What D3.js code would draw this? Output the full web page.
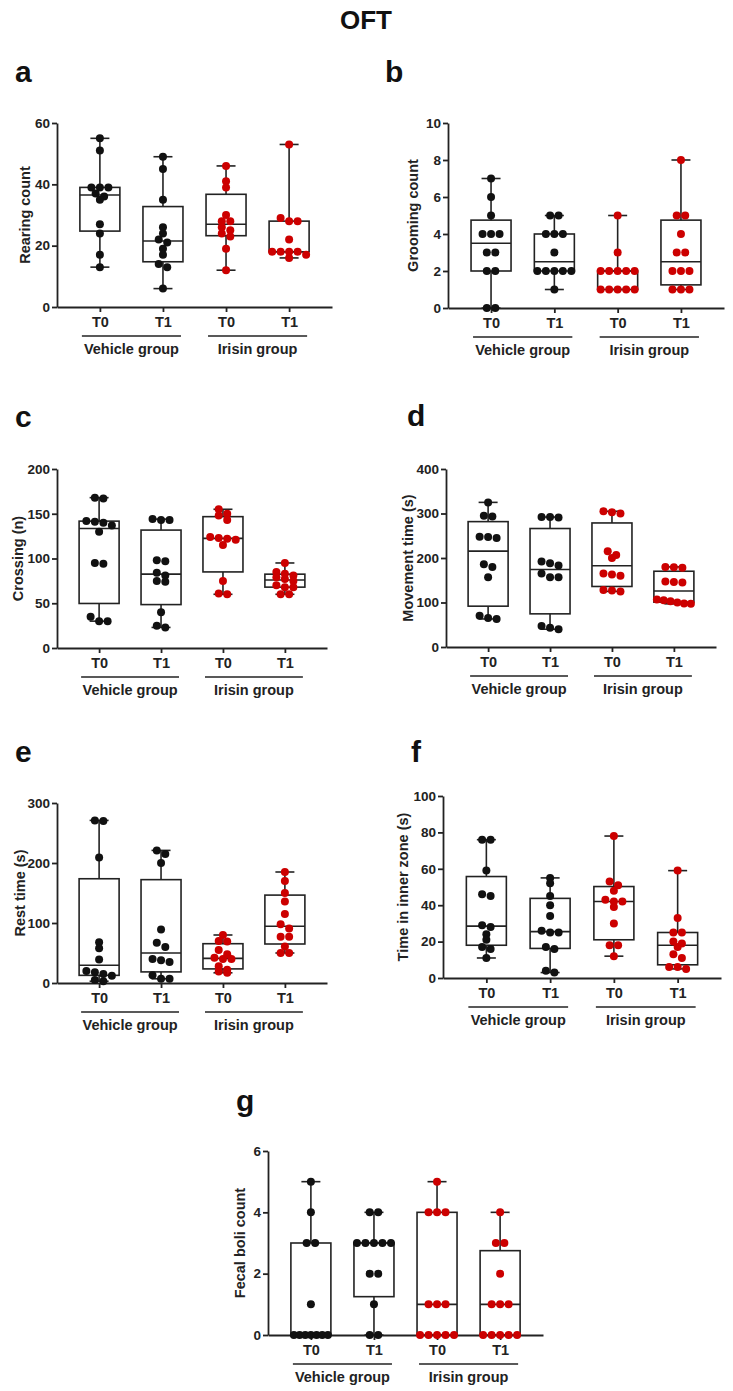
<!doctype html>
<html>
    <head>
        <meta charset="utf-8">
        <script src="https://cdn.jsdelivr.net/npm/d3@7/dist/d3.min.js"></script>
        <style>
            html, body {
                margin: 0;
                padding: 0;
                background: #fff;
            }
            #viz svg {
                display: block;
                font-family: "Liberation Sans", Arial, sans-serif;
            }
            .axis path, .axis line {
                stroke: #222;
                stroke-width: 1.8px;
            }
            .axis text {
                font-size: 13.5px;
                font-weight: bold;
                fill: #222;
            }
            .axis.x text {
                font-size: 14.5px;
            }
        </style>
        <script>
            // categories / groups shared by every panel
            var categories = ["T0", "T1", "T0", "T1"];
            var groups = ["Vehicle group", "Irisin group"];
            var panelIds = ["a", "b", "c", "d", "e", "f", "g"];
            var yTitles = ["Rearing count", "Grooming count", "Crossing (n)", "Movement time (s)",
                           "Rest time (s)", "Time in inner zone (s)", "Fecal boli count"];
            var yMaxes = [60, 10, 200, 400, 300, 100, 6];
            var yTickSteps = [20, 2, 50, 100, 100, 20, 2];

            // one list per category: vehicle T0, vehicle T1, irisin T0, irisin T1
            var rearing = [
                [55, 51, 39, 39, 39, 37, 36, 35, 27, 24, 17, 13],
                [49, 45, 35, 26, 24, 22, 21, 19, 17, 14, 13, 6],
                [46, 41, 39, 30, 28, 28, 26, 25, 24, 23, 19, 12],
                [53, 29, 28, 28, 22, 18, 18, 18, 18, 17, 16]
            ];
            var grooming = [
                [7, 6, 5, 4, 4, 4, 3, 3, 2, 2, 0, 0],
                [5, 5, 4, 4, 4, 3, 2, 2, 2, 2, 2, 1],
                [5, 3, 2, 2, 2, 2, 2, 1, 1, 1, 1, 1],
                [8, 5, 5, 4, 3, 3, 2, 2, 2, 1, 1, 1]
            ];
            var crossing = [
                [168, 167, 142, 141, 140, 137, 130, 95, 94, 35, 30, 30],
                [144, 143, 143, 98, 97, 84, 81, 75, 74, 40, 25, 23],
                [155, 150, 148, 143, 124, 123, 122, 121, 115, 75, 61, 60],
                [95, 85, 83, 81, 79, 77, 75, 70, 68, 68, 60, 60]
            ];
            var movement = [
                [325, 295, 293, 248, 247, 245, 186, 180, 157, 70, 65, 63],
                [292, 292, 291, 192, 188, 183, 165, 157, 157, 47, 43, 40],
                [305, 303, 300, 215, 207, 200, 165, 163, 160, 128, 127, 125],
                [180, 179, 178, 147, 146, 145, 107, 105, 103, 100, 98, 97]
            ];
            var rest = [
                [271, 270, 209, 68, 58, 39, 20, 18, 15, 12, 5, 3],
                [221, 215, 200, 89, 67, 60, 40, 38, 35, 13, 7, 7],
                [80, 70, 69, 55, 48, 42, 40, 40, 28, 22, 19, 17],
                [185, 170, 150, 136, 115, 98, 91, 77, 77, 61, 50, 50]
            ];
            var innerZone = [
                [76, 76, 59, 46, 45, 29, 28, 24, 21, 17, 16, 11],
                [55, 52, 45, 40, 34, 26, 25, 25, 17, 16, 4, 3],
                [78, 53, 51, 48, 43, 42, 42, 39, 30, 18, 18, 12],
                [59, 33, 25, 25, 20, 19, 17, 13, 11, 6, 6, 5]
            ];
            var fecal = [
                [5, 4, 3, 3, 1, 0, 0, 0, 0, 0, 0, 0],
                [4, 4, 3, 3, 3, 3, 3, 2, 2, 1, 0, 0],
                [5, 4, 4, 4, 1, 1, 1, 0, 0, 0, 0, 0],
                [4, 3, 3, 2, 1, 1, 1, 0, 0, 0, 0, 0]
            ];
            var panelData = [rearing, grooming, crossing, movement, rest, innerZone, fecal];

            var colors = ["#111", "#111", "#cc0000", "#cc0000"];

            // where each panel sits on the page
            var layout = [
                {ax: 57,  ex: 332, y0: 307,  y1: 123,  lx: 15,  ly: 82,   tx: 25},
                {ax: 448, ex: 724, y0: 308,  y1: 123,  lx: 385, ly: 82,   tx: 413},
                {ax: 57,  ex: 327, y0: 648,  y1: 469,  lx: 15,  ly: 427,  tx: 18},
                {ax: 446, ex: 716, y0: 647,  y1: 469,  lx: 407, ly: 426,  tx: 408},
                {ax: 57,  ex: 327, y0: 983,  y1: 803,  lx: 15,  ly: 762,  tx: 20},
                {ax: 443, ex: 721, y0: 978,  y1: 796,  lx: 411, ly: 762,  tx: 403},
                {ax: 268, ex: 543, y0: 1335, y1: 1151, lx: 236, ly: 1111, tx: 240}
            ];

            // quartile the way prism does it: position p*(n+1)
            var quant = function (sorted, p) {
                var n = sorted.length;
                var pos = p * (n + 1);
                if (pos <= 1) return sorted[0];
                if (pos >= n) return sorted[n - 1];
                var lo = Math.floor(pos);
                var frac = pos - lo;
                return sorted[lo - 1] + frac * (sorted[lo] - sorted[lo - 1]);
            };

            // put points of (almost) the same value side by side, centred
            var swarm = function (values, y, r) {
                var pts = values.slice().sort(function (a, b) { return b - a; })
                    .map(function (v) { return {v: v, py: y(v), dx: 0}; });
                var rows = [];
                pts.forEach(function (p) {
                    var row = rows[rows.length - 1];
                    if (row && Math.abs(p.py - row[0].py) < r * 1.25) {
                        row.push(p);
                    } else {
                        rows.push([p]);
                    }
                });
                rows.forEach(function (row) {
                    var n = row.length;
                    var step = n > 1 ? Math.min(2 * r + 0.5, 34 / (n - 1)) : 0;
                    row.forEach(function (p, i) {
                        p.dx = (i - (n - 1) / 2) * step;
                    });
                });
                return pts;
            };

            var renderPanel = function (svg, k) {
                var L = layout[k];
                var data = panelData[k];
                var r = 4;
                var boxW = 40;
                var capW = 19;

                var x = d3.scalePoint()
                    .domain([0, 1, 2, 3])
                    .range([L.ax, L.ex])
                    .padding(0.68);
                var y = d3.scaleLinear()
                    .domain([0, yMaxes[k]])
                    .range([L.y0, L.y1]);

                var g = svg.append("g");

                // panel letter
                g.append("text")
                    .attr("x", L.lx)
                    .attr("y", L.ly)
                    .attr("font-size", 30)
                    .attr("font-weight", "bold")
                    .attr("fill", "#111")
                    .text(panelIds[k]);

                // y axis
                g.append("g")
                    .attr("class", "axis y")
                    .attr("transform", "translate(" + L.ax + ",0)")
                    .call(d3.axisLeft(y)
                        .tickValues(d3.range(0, yMaxes[k] + 0.001, yTickSteps[k]))
                        .tickFormat(d3.format("d"))
                        .tickSize(5)
                        .tickSizeOuter(0)
                        .tickPadding(2));

                // x axis
                g.append("g")
                    .attr("class", "axis x")
                    .attr("transform", "translate(0," + L.y0 + ")")
                    .call(d3.axisBottom(x)
                        .tickFormat(function (i) { return categories[i]; })
                        .tickSize(5)
                        .tickSizeOuter(0)
                        .tickPadding(5));

                // y title
                g.append("text")
                    .attr("transform", "translate(" + L.tx + "," + ((L.y0 + L.y1) / 2) + ") rotate(-90)")
                    .attr("text-anchor", "middle")
                    .attr("dy", "0.35em")
                    .attr("font-size", 14.5)
                    .attr("font-weight", "bold")
                    .attr("fill", "#222")
                    .text(yTitles[k]);

                // group lines + labels
                groups.forEach(function (name, gi) {
                    var xa0 = x(gi * 2) - 18;
                    var xa1 = x(gi * 2 + 1) + 18;
                    g.append("line")
                        .attr("x1", xa0).attr("x2", xa1)
                        .attr("y1", L.y0 + 29).attr("y2", L.y0 + 29)
                        .attr("stroke", "#222")
                        .attr("stroke-width", 1.5);
                    g.append("text")
                        .attr("x", (xa0 + xa1) / 2)
                        .attr("y", L.y0 + 47)
                        .attr("text-anchor", "middle")
                        .attr("font-size", 14.5)
                        .attr("font-weight", "bold")
                        .attr("fill", "#222")
                        .text(name);
                });

                // boxes and whiskers
                data.forEach(function (vals, ci) {
                    var s = vals.slice().sort(d3.ascending);
                    var cx = x(ci);
                    var q1 = quant(s, 0.25), med = quant(s, 0.5), q3 = quant(s, 0.75);
                    var lo = s[0], hi = s[s.length - 1];
                    var bg = g.append("g")
                        .attr("fill", "none")
                        .attr("stroke", "#222")
                        .attr("stroke-width", 1.6);

                    bg.append("line").attr("x1", cx).attr("x2", cx).attr("y1", y(hi)).attr("y2", y(q3));
                    bg.append("line").attr("x1", cx).attr("x2", cx).attr("y1", y(q1)).attr("y2", y(lo));
                    bg.append("line").attr("x1", cx - capW / 2).attr("x2", cx + capW / 2).attr("y1", y(hi)).attr("y2", y(hi));
                    bg.append("line").attr("x1", cx - capW / 2).attr("x2", cx + capW / 2).attr("y1", y(lo)).attr("y2", y(lo));
                    bg.append("rect")
                        .attr("x", cx - boxW / 2)
                        .attr("y", y(q3))
                        .attr("width", boxW)
                        .attr("height", Math.max(0, y(q1) - y(q3)));
                    bg.append("line").attr("x1", cx - boxW / 2).attr("x2", cx + boxW / 2).attr("y1", y(med)).attr("y2", y(med));
                });

                // the dots
                data.forEach(function (vals, ci) {
                    var pts = swarm(vals, y, r);
                    g.append("g")
                        .selectAll("circle")
                        .data(pts)
                        .enter()
                        .append("circle")
                            .attr("cx", function (d) { return x(ci) + d.dx; })
                            .attr("cy", function (d) { return d.py; })
                            .attr("r", r)
                            .attr("fill", colors[ci]);
                });
            };

            document.addEventListener("DOMContentLoaded", function () {
                var w = 733, h = 1391;
                var svg = d3.select("#viz").append("svg")
                    .attr("width", w)
                    .attr("height", h);

                svg.append("rect").attr("width", w).attr("height", h).attr("fill", "#fff");

                svg.append("text")
                    .attr("x", 366)
                    .attr("y", 29)
                    .attr("text-anchor", "middle")
                    .attr("font-size", 26)
                    .attr("font-weight", "bold")
                    .attr("fill", "#111")
                    .text("OFT");

                for (var k = 0; k < panelData.length; k++) {
                    renderPanel(svg, k);
                }
            });
        </script>
    </head>
    <body>
        <div id="viz"></div>
    </body>
</html>
